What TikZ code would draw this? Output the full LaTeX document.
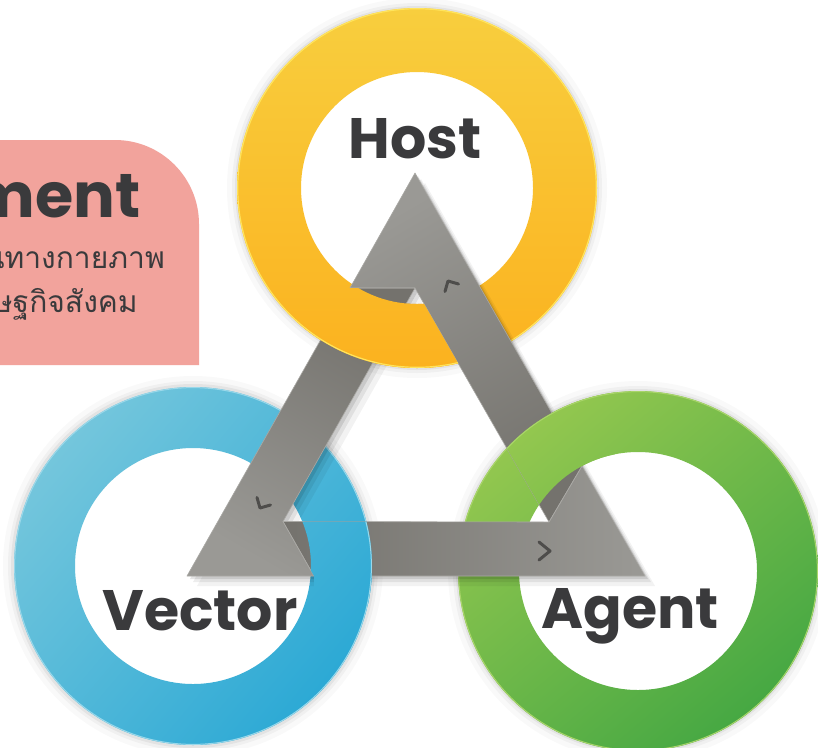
\documentclass[tikz,border=0pt]{standalone}
\usepackage{fontspec}
\usetikzlibrary{calc}
\newfontfamily\labelfont{Poppins}
\newfontfamily\thaifont[Script=Thai]{Loma}

\definecolor{ink}{HTML}{3A3A3C}
\definecolor{panel}{HTML}{F2A39C}
\definecolor{yelA}{HTML}{F8CE3E}
\definecolor{yelB}{HTML}{FBB21F}
\definecolor{yelRim}{HTML}{FFE45C}
\definecolor{bluA}{HTML}{74C6DC}
\definecolor{bluB}{HTML}{2CA9D5}
\definecolor{bluRim}{HTML}{9AD8EA}
\definecolor{grnA}{HTML}{93C74F}
\definecolor{grnB}{HTML}{46A843}
\definecolor{grnRim}{HTML}{A9D56A}
\definecolor{bandLight}{HTML}{9A9995}
\definecolor{bandDark}{HTML}{74726D}
\definecolor{bandEdge}{HTML}{AAA9A5}
\definecolor{holeEdge}{HTML}{E2E2E2}
\definecolor{chevron}{HTML}{4E4D4B}

% white centre fading to a soft grey rim inside each ring
\pgfdeclareradialshading{holeshade}{\pgfpoint{0bp}{0bp}}{%
  color(0bp)=(white); color(32bp)=(white); color(46bp)=(holeEdge); color(50bp)=(holeEdge!85!gray)}

% one coloured ring: centre, outer radius, inner radius, shading keys
\newcommand\ringband[4]{%
  \shade[even odd rule,#4] (#1) circle[radius=#2pt] (#1) circle[radius=#3pt];}

\begin{document}
\begin{tikzpicture}[x=1pt,y=-1pt,
  label text/.style={font=\labelfont\bfseries\fontsize{57}{57}\selectfont, text=ink, inner sep=0pt, anchor=base},
  thai text/.style={font=\thaifont\fontsize{30}{36}\selectfont, text=ink, inner sep=0pt, anchor=base east},
  chev/.style={draw=chevron, line width=3pt, line cap=round, line join=round},
  yellow ring/.style={top color=yelA, bottom color=yelB},
  blue ring/.style={top color=bluA, bottom color=bluB, shading angle=50},
  green ring/.style={top color=grnA, bottom color=grnB, shading angle=40},
  right band/.style={insert path={(A) -- (PA) -- (Ai) -- (Ci) -- (QC) -- cycle}},
  bottom band/.style={insert path={(C) -- (QC) -- (Ci) -- (Bi) -- (RB) -- cycle}},
  left band/.style={insert path={(B) -- (RB) -- (Bi) -- (Ai) -- (PA) -- cycle}},
  band edge/.style={draw=bandEdge, line width=0.6pt, line join=round},
]
\useasboundingbox (0,0) rectangle (818,747);
\fill[white] (0,0) rectangle (818,747);

% ---- key points -------------------------------------------------------
\coordinate (hostc) at (417,188);
\coordinate (vecc)  at (193,566);
\coordinate (agc)   at (638,571);
% outer triangle, inner triangle and the seams between the three bands
\coordinate (A)  at (415,173);
\coordinate (B)  at (187,576);
\coordinate (C)  at (645,576);
\coordinate (Ai) at (415,288);
\coordinate (Bi) at (283,521.5);
\coordinate (Ci) at (549,522);
\coordinate (PA) at (350,288);
\coordinate (QC) at (582,466);
\coordinate (RB) at (314,576);

% ---- side panel --------------------------------------------------------
\fill[panel] (-2,140) -- (115,140) arc[start angle=90, end angle=0, radius=84pt]
  -- (199,365) -- (-2,365) -- cycle;
\node[font=\labelfont\bfseries\fontsize{62}{62}\selectfont, text=ink, inner sep=0pt,
  anchor=base east] (envword) at (141,217) {ment};
\node[thai text] (thaione) at (165,268) {นทางกายภาพ};
\node[thai text] (thaitwo) at (138,312) {ษฐกิจสังคม};

% ---- soft halo round the rings ------------------------------------------
\foreach \c in {hostc,vecc,agc}{
  \fill[black, opacity=0.025] (\c) circle[radius=190pt];
  \fill[black, opacity=0.035] (\c) circle[radius=185pt];
  \fill[black, opacity=0.05]  (\c) circle[radius=182pt];
}

% ---- ring holes and rings --------------------------------------------------
\shade[shading=holeshade] (hostc) circle[radius=117pt];
\shade[shading=holeshade] (vecc)  circle[radius=119pt];
\shade[shading=holeshade] (agc)   circle[radius=120pt];
\ringband{hostc}{180}{116}{yellow ring}
\ringband{vecc}{179}{118}{blue ring}
\ringband{agc}{180}{119}{green ring}
\draw[yelRim, line width=1.2pt] (hostc) circle[radius=179.3pt];
\draw[bluRim, line width=1pt]   (vecc)  circle[radius=178.4pt];
\draw[grnRim, line width=1pt]   (agc)   circle[radius=179.4pt];

% ---- shadows cast by the bands -------------------------------------------
\foreach \s/\o in {3/0.10,6/0.07,10/0.05}{
  \begin{scope}[transform canvas={shift={(\s pt,-\s pt)}}]
    \fill[black, opacity=\o, right band];
    \fill[black, opacity=\o, bottom band];
    \fill[black, opacity=\o, left band];
  \end{scope}
}

% ---- the three bands of the triangle ---------------------------------------
\shade[right band, top color=bandLight, bottom color=bandDark, shading angle=30];
\shade[left band, top color=bandDark, bottom color=bandLight, shading angle=-30];
\shade[bottom band, left color=bandDark, right color=bandLight];
\path[band edge, right band];
\path[band edge, left band];
\path[band edge, bottom band];

% ---- each ring passes over the tail of the band leaving its corner ------
\begin{scope}
  \clip (300,288) -- (PA) -- (Ai) -- ($(Ai)!0.4!(Ci)$) -- (300,420) -- cycle;
  \ringband{hostc}{180}{116}{yellow ring}
  \draw[yelRim, line width=1.2pt] (hostc) circle[radius=179.3pt];
\end{scope}
\begin{scope}
  \clip (Bi) -- (RB) -- (314,605) -- (400,605) -- (400,521.5) -- cycle;
  \ringband{vecc}{179}{118}{blue ring}
  \draw[bluRim, line width=1pt] (vecc) circle[radius=178.4pt];
\end{scope}
\begin{scope}
  \clip (Ci) -- (QC) -- (615,462) -- (615,385) -- ($(Ai)!0.55!(Ci)$) -- cycle;
  \ringband{agc}{180}{119}{green ring}
  \draw[grnRim, line width=1pt] (agc) circle[radius=179.4pt];
\end{scope}

% ---- direction marks -------------------------------------------------------
\draw[chev] (445,291.5) -- (448,281) -- (458.5,284);
\draw[chev] (257,497.5) -- (260,508) -- (270.5,505);
\draw[chev] (539,542) -- (550,551) -- (539,560);

% ---- labels ----------------------------------------------------------------
\node[label text] (host)   at (415,158) {Host};
\node[label text] (vector) at (200,630) {Vector};
\node[label text] (agent)  at (630,628) {Agent};
\end{tikzpicture}
\end{document}
